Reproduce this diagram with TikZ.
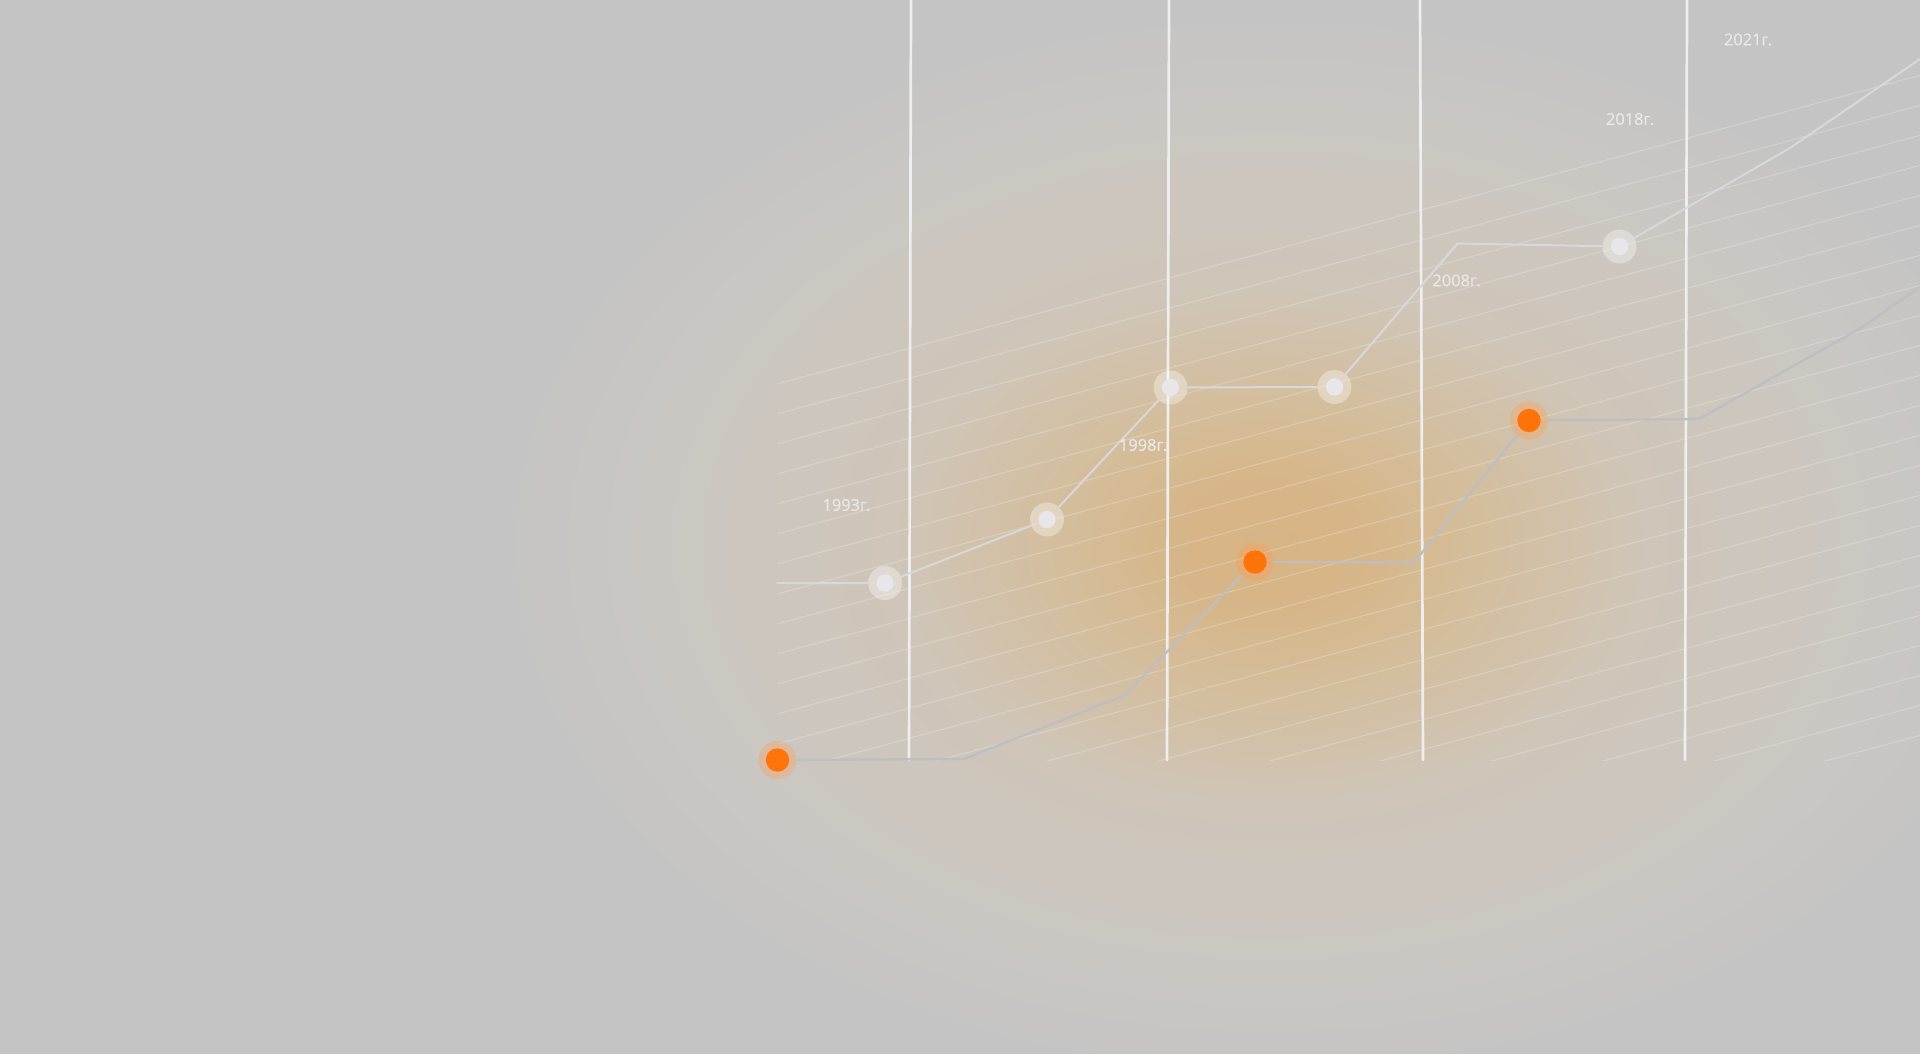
\documentclass[tikz,border=0pt]{standalone}
\usepackage{fontspec}
\setmainfont{Open Sans}
\newfontfamily\yearfont[FakeBold=0.6]{Open Sans}
\definecolor{bgc}{RGB}{196,196,196}
\definecolor{glowc}{RGB}{215,180,132}
\definecolor{glowm}{RGB}{212,188,152}
\definecolor{ringc}{RGB}{207,197,184}
\definecolor{ringo}{RGB}{202,199,195}
\definecolor{lineW}{RGB}{238,238,238}
\definecolor{pathW}{RGB}{216,216,219}
\definecolor{pathO}{RGB}{190,190,193}
\definecolor{dotW}{RGB}{232,230,233}
\definecolor{dotO}{RGB}{255,116,8}
\definecolor{textc}{RGB}{232,232,232}
\pgfdeclareradialshading{glow}{\pgfpoint{0bp}{0bp}}{color(0bp)=(glowc); color(3bp)=(glowc!80!glowm); color(6bp)=(glowm); color(9bp)=(glowm!50!ringc); color(12bp)=(ringc); color(16bp)=(ringc!50!ringo); color(20bp)=(ringo); color(25bp)=(bgc); color(50bp)=(bgc)}
\begin{document}
\begin{tikzpicture}[x=1pt, y=-1pt, font=\yearfont\fontsize{16.4}{18}\selectfont, line join=round, line cap=round,
	vline/.style={draw=lineW, line width=2.7},
	hatch/.style={draw=white, opacity=.24, line width=1},
	wpath/.style={draw=pathW, line width=2},
	opath/.style={draw=pathO, line width=2.3},
	wdot/.style={circle, inner sep=0pt, minimum size=34, fill=white, fill opacity=.35,
		path picture={\fill[dotW, fill opacity=1] (path picture bounding box.center) circle (8.7);}},
	odot/.style={circle, inner sep=0pt, minimum size=38, fill=dotO!70!white, fill opacity=.35,
		path picture={\fill[dotO, fill opacity=1] (path picture bounding box.center) circle (11.7);}},
	year/.style={text=textc, inner sep=0pt}]
	\def\xl{777} % left edge of the hatching
	\def\yb{760} % bottom of the grid
	\useasboundingbox (0,0) rectangle (1920,1054);
	\clip (0,0) rectangle (1920,1054);
	\fill[bgc] (0,0) rectangle (1920,1054);
	\shade[shading=glow] (1270,545) ellipse [x radius=780, y radius=540];
	% hatching
	\begin{scope}
		\clip (\xl,0) rectangle (1920,\yb);
		\foreach \k in {0,...,22}
			\draw[hatch] (\xl,{384+30*\k}) -- ++(1143,-308.6);
	\end{scope}
	% grid
	\foreach \a/\b in {911/909, 1169/1167, 1420/1423, 1687/1685}
		\draw[vline] (\a,0) -- (\b,\yb);
	% points
	\node[wdot] (w1) at (885,583) {};
	\node[wdot] (w2) at (1047,519.5) {};
	\node[wdot] (w3) at (1170.5,387.5) {};
	\node[wdot] (w4) at (1334.5,387) {};
	\node[wdot] (w5) at (1619.5,246.5) {};
	\node[odot] (o1) at (777.5,760) {};
	\node[odot] (o2) at (1255,562) {};
	\node[odot] (o3) at (1529,420.5) {};
	\coordinate (ws) at (\xl,583);
	\coordinate (wb1) at (1457.5,243.5);
	\coordinate (wb2) at (1790,148);
	\coordinate (we) at (1920,59);
	\coordinate (ob1) at (964,759);
	\coordinate (ob2) at (1124,695.5);
	\coordinate (ob3) at (1414,562.5);
	\coordinate (ob4) at (1699,419);
	\coordinate (ob5) at (1861,328);
	\coordinate (oe) at (1920,287);
	\draw[wpath] (ws) -- (w1) -- (w2) -- (w3) -- (w4) -- (wb1) -- (w5) -- (wb2) -- (we);
	\draw[opath] (o1) -- (ob1) -- (ob2) -- (o2) -- (ob3) -- (o3) -- (ob4) -- (ob5) -- (oe);
	% years
	\node[year] (y1993) at (846.5,505) {1993г.};
	\node[year] (y1998) at (1143,445) {1998г.};
	\node[year] (y2008) at (1456.5,280.5) {2008г.};
	\node[year] (y2018) at (1630,119) {2018г.};
	\node[year] (y2021) at (1748,39.5) {2021г.};
\end{tikzpicture}
\end{document}
